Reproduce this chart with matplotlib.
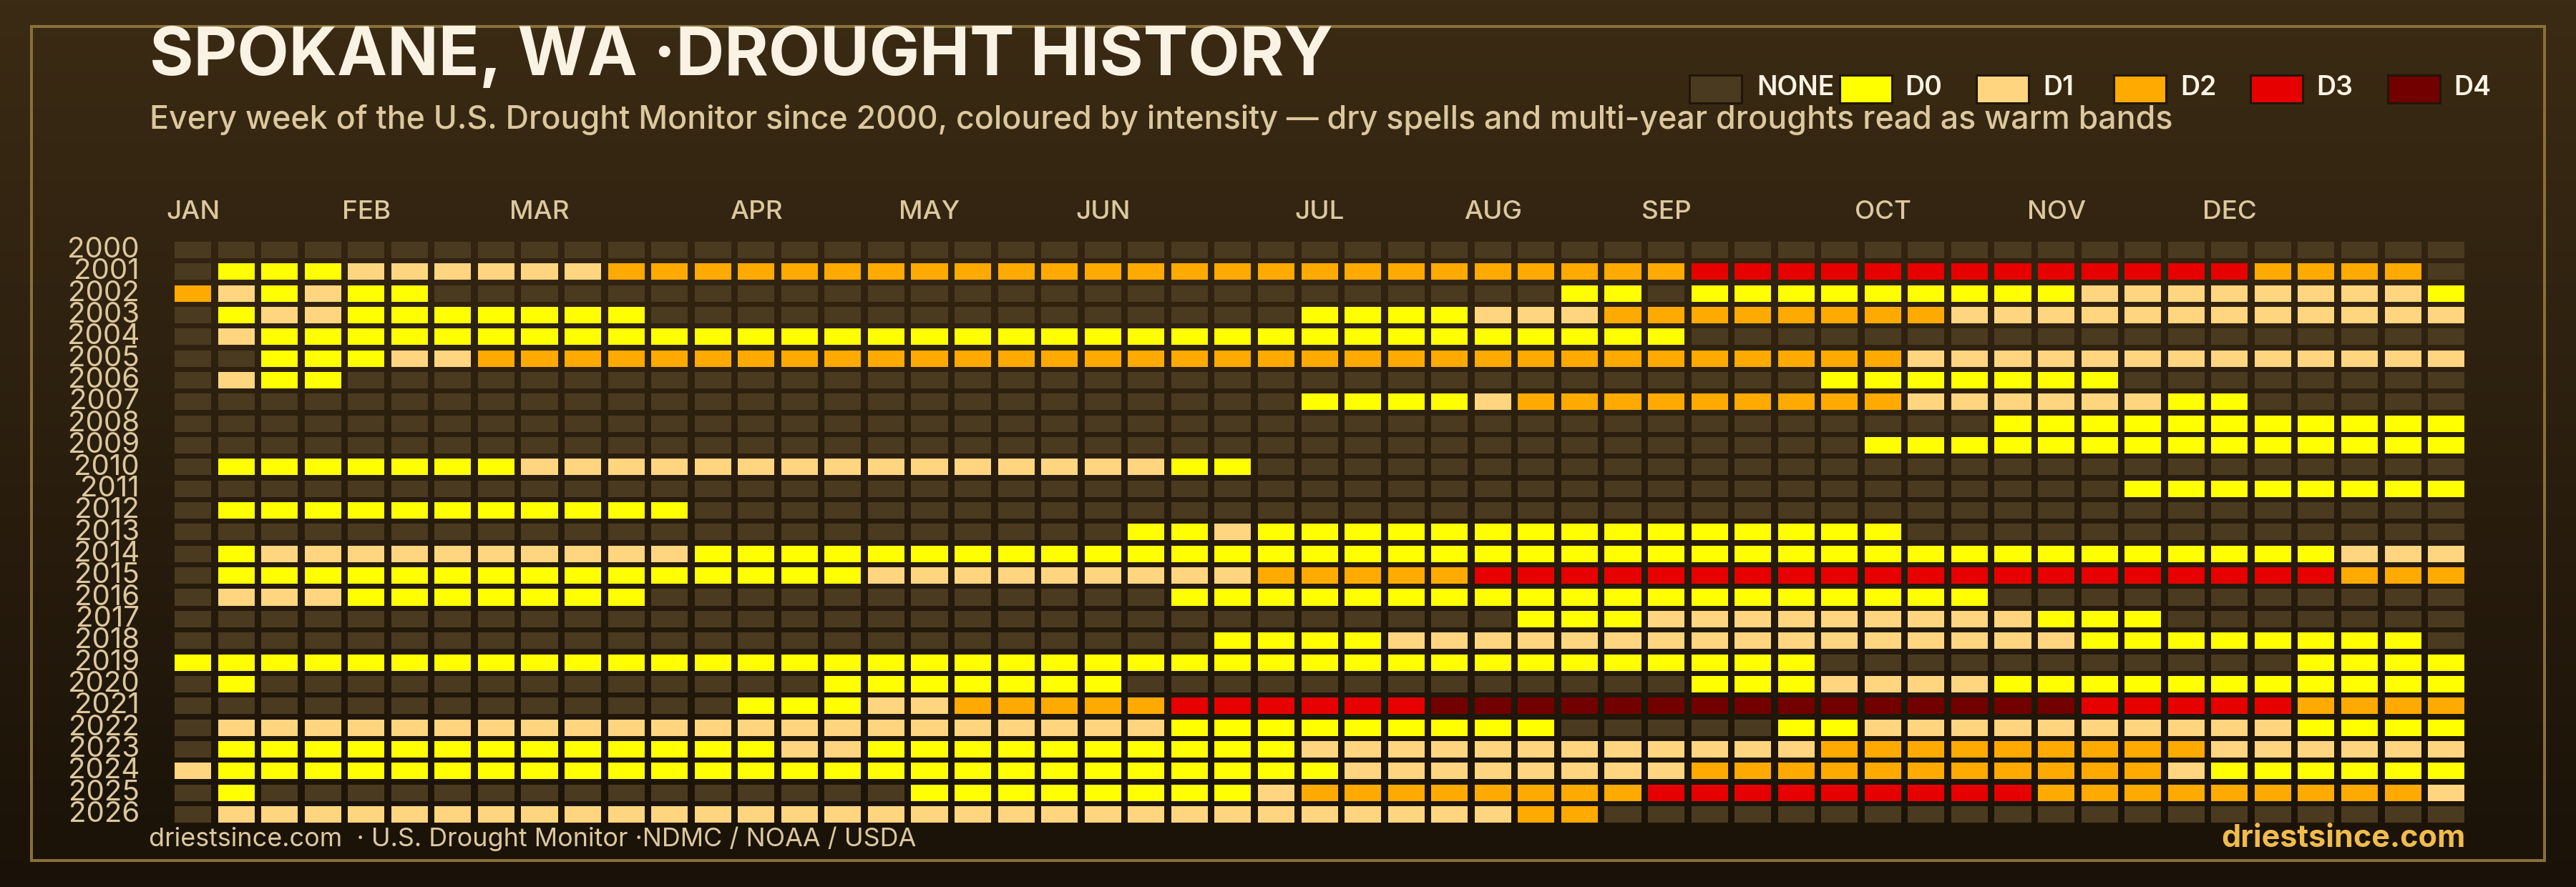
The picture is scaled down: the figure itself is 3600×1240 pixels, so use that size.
import numpy as np
import matplotlib
matplotlib.use("Agg")
import matplotlib.pyplot as plt
from matplotlib.patches import Rectangle

W, H = 3600, 1240
FONT = "Inter"

years = list(range(2000, 2027))
months = ["JAN", "FEB", "MAR", "APR", "MAY", "JUN", "JUL", "AUG", "SEP", "OCT", "NOV", "DEC"]
month_weeks = [0, 4, 8, 13, 17, 21, 26, 30, 34, 39, 43, 47]
levels = ["NONE", "D0", "D1", "D2", "D3", "D4"]
level_colors = ["#4a3a1f", "#ffff00", "#ffd580", "#ffaa00", "#e60000", "#730000"]

# runs of (level, number of weeks) per year, level 0 = NONE ... 5 = D4
week_runs = [
    [(0, 53)],
    [(0, 1), (1, 3), (2, 6), (3, 25), (4, 13), (3, 4), (0, 1)],
    [(3, 1), (2, 1), (1, 1), (2, 1), (1, 2), (0, 26), (1, 2), (0, 1), (1, 9), (2, 8), (1, 1)],
    [(0, 1), (1, 1), (2, 2), (1, 7), (0, 15), (1, 4), (2, 3), (3, 8), (2, 12)],
    [(0, 1), (2, 1), (1, 33), (0, 18)],
    [(0, 2), (1, 3), (2, 2), (3, 33), (2, 13)],
    [(0, 1), (2, 1), (1, 2), (0, 34), (1, 7), (0, 8)],
    [(0, 26), (1, 4), (2, 1), (3, 9), (2, 6), (1, 2), (0, 5)],
    [(0, 42), (1, 11)],
    [(0, 39), (1, 14)],
    [(0, 1), (1, 7), (2, 15), (1, 2), (0, 28)],
    [(0, 45), (1, 8)],
    [(0, 1), (1, 11), (0, 41)],
    [(0, 22), (1, 2), (2, 1), (1, 15), (0, 13)],
    [(0, 1), (1, 1), (2, 10), (1, 38), (2, 3)],
    [(0, 1), (1, 15), (2, 9), (3, 5), (4, 20), (3, 3)],
    [(0, 1), (2, 3), (1, 7), (0, 12), (1, 19), (0, 11)],
    [(0, 31), (1, 3), (2, 9), (1, 3), (0, 7)],
    [(0, 24), (1, 4), (2, 16), (1, 8), (0, 1)],
    [(1, 38), (0, 11), (1, 4)],
    [(0, 1), (1, 1), (0, 13), (1, 7), (0, 13), (1, 3), (2, 4), (1, 11)],
    [(0, 13), (1, 3), (2, 2), (3, 5), (4, 6), (5, 15), (4, 5), (3, 4)],
    [(0, 1), (2, 22), (1, 9), (0, 5), (1, 2), (2, 10), (1, 4)],
    [(0, 1), (1, 13), (2, 2), (1, 10), (2, 12), (3, 9), (2, 6)],
    [(2, 1), (1, 26), (2, 8), (3, 11), (2, 1), (1, 6)],
    [(0, 1), (1, 1), (0, 15), (1, 8), (2, 1), (3, 8), (4, 9), (3, 9), (2, 1)],
    [(0, 1), (2, 30), (3, 2), (0, 20)],
]


def px_text(x, y, s, size, color, weight="normal", ha="left"):
    # x and baseline y in pixels from the top left
    return fig.text(x / W, 1 - y / H, s, fontsize=size, color=color, fontweight=weight,
                    ha=ha, va="baseline", family=FONT)


fig = plt.figure(figsize=(W / 100, H / 100), dpi=100)

# background gradient
bg = fig.add_axes([0, 0, 1, 1], zorder=0)
top = np.array([59, 43, 20]) / 255
bottom = np.array([26, 18, 8]) / 255
t = np.linspace(0, 1, 256)[:, None, None]
bg.imshow(top + (bottom - top) * t, aspect="auto", extent=[0, 1, 0, 1])
bg.axis("off")

# frame
fig.add_artist(Rectangle((44 / W, 1 - 1203 / H), (3556 - 44) / W, (1203 - 37) / H, transform=fig.transFigure,
                         fill=False, edgecolor="#8a6f3a", linewidth=2.9, zorder=1))

# grid of weeks
col_pitch = 60.56
row_pitch = 30.35
ax = fig.add_axes([(269.5 - col_pitch / 2) / W, 1 - (1138.5 + row_pitch / 2) / H,
                   col_pitch * 53 / W, row_pitch * 27 / H], zorder=2)
ax.patch.set_alpha(0)
for row, runs in enumerate(week_runs):
    cells = [lvl for lvl, n in runs for _ in range(n)]
    assert len(cells) == 53, years[row]
    ax.bar(range(53), [0.76] * 53, bottom=[row - 0.38] * 53, width=0.843,
           color=[level_colors[c] for c in cells], linewidth=0)
ax.set_xlim(-0.5, 52.5)
ax.set_ylim(26.5, -0.5)
ax.axis("off")

# year and month labels
for row, year in enumerate(years):
    px_text(195, 349.5 + row * row_pitch + 10.5, str(year), 29, "#dcc89e", ha="right")
for m, w in zip(months, month_weeks):
    px_text(269.5 + w * col_pitch, 306, m, 26.5, "#dcc89e", weight="medium", ha="center")

# title block
px_text(209, 105, "SPOKANE, WA ·DROUGHT HISTORY", 67.6, "#faf3e3", weight="bold")
px_text(209, 180, "Every week of the U.S. Drought Monitor since 2000, coloured by intensity — "
                  "dry spells and multi-year droughts read as warm bands", 32.2, "#dcc89e", weight="medium")

# legend
swatch_x = [2361, 2571, 2762, 2954, 3145, 3337]
label_x = [2455, 2662, 2855, 3047, 3237, 3429]
for lvl, c, sx, lx in zip(levels, level_colors, swatch_x, label_x):
    fig.add_artist(Rectangle((sx / W, 1 - 144 / H), 73 / W, 39 / H, transform=fig.transFigure,
                             facecolor=c, edgecolor="#20160a", linewidth=2.2, zorder=3))
    px_text(lx, 133, lvl, 27, "#faf3e3", weight="semibold")

# footer
px_text(208, 1183, "driestsince.com  · U.S. Drought Monitor ·NDMC / NOAA / USDA", 25.9, "#dcc89e")
px_text(3446, 1184, "driestsince.com", 31, "#f0bc4c", weight="bold", ha="right")

fig.savefig("out.png", dpi=100)
